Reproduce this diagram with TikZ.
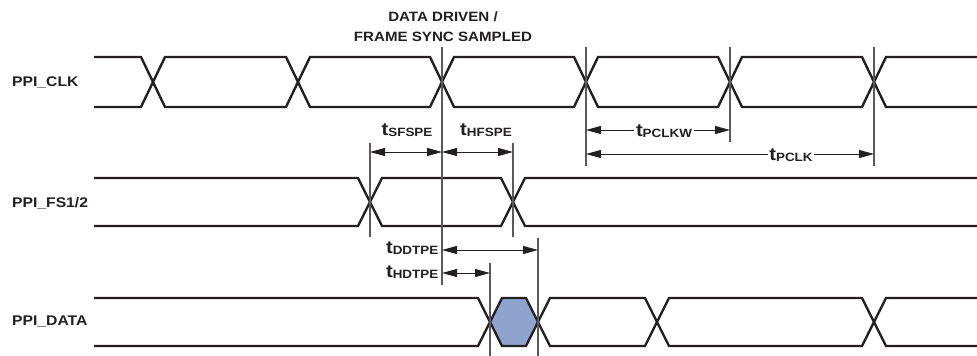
\documentclass[tikz,border=0pt]{standalone}
\usepackage{fontspec}
\usepackage{graphicx}
\setmainfont{Liberation Sans}
\usetikzlibrary{arrows.meta}
\definecolor{wavecol}{HTML}{231F20}
\definecolor{guidecol}{HTML}{5A5A5A}
\definecolor{hexfill}{RGB}{142,164,207}
\newcommand\stretchx[1]{\scalebox{1.12}[1]{#1}}
\newcommand\tlab[1]{\stretchx{{\fontsize{18}{18}\selectfont t}\raisebox{-1.5pt}{\fontsize{12}{12}\selectfont #1}}}
\begin{document}
\begin{tikzpicture}[x=1pt,y=-1pt,
  wave/.style={line width=2.4pt, draw=wavecol, line join=miter},
  guide/.style={line width=1.1pt, draw=guidecol},
  dimboth/.style={line width=0.9pt, draw=wavecol, {Triangle[length=15pt,width=8pt]}-{Triangle[length=15pt,width=8pt]}},
  dimone/.style={line width=0.9pt, draw=wavecol, -{Triangle[length=15pt,width=8pt]}},
  sig/.style={font=\bfseries\fontsize{14}{14}\selectfont, anchor=west, inner sep=0pt, text=wavecol},
  tl/.style={font=\bfseries, inner sep=1.5pt, text=wavecol},
  hdr/.style={font=\bfseries\fontsize{13.5}{20}\selectfont, align=center, inner sep=0pt, text=wavecol}
]
\useasboundingbox (0,0) rectangle (977,356);

% signal names
\node[sig] (nclk) at (12,82) {\stretchx{PPI\_CLK}};
\node[sig] (nfs) at (12,203) {\stretchx{PPI\_FS1/2}};
\node[sig] (ndata) at (12,322) {\stretchx{PPI\_DATA}};

% header
\node[hdr, anchor=base] (hdr) at (443,41) {\stretchx{DATA DRIVEN /}\\\stretchx{FRAME SYNC SAMPLED}};

% data hexagon fill
\fill[hexfill] (490,322) -- (502,298) -- (526,298) -- (538,322) -- (526,346) -- (502,346) -- cycle;

% PPI_CLK
\draw[wave] (94,57) -- (141,57) -- (165,107) -- (286,107) -- (310,57) -- (430,57) -- (454,107) -- (574,107) -- (598,57) -- (718,57) -- (742,107) -- (862,107) -- (886,57) -- (977,57);
\draw[wave] (94,107) -- (141,107) -- (165,57) -- (286,57) -- (310,107) -- (430,107) -- (454,57) -- (574,57) -- (598,107) -- (718,107) -- (742,57) -- (862,57) -- (886,107) -- (977,107);

% PPI_FS1/2
\draw[wave] (94,178) -- (358,178) -- (382,226) -- (501,226) -- (525,178) -- (977,178);
\draw[wave] (94,226) -- (358,226) -- (382,178) -- (501,178) -- (525,226) -- (977,226);

% PPI_DATA
\draw[wave] (94,298) -- (478,298) -- (502,346) -- (526,346) -- (550,298) -- (645,298) -- (669,346) -- (862,346) -- (886,298) -- (977,298);
\draw[wave] (94,346) -- (478,346) -- (502,298) -- (526,298) -- (550,346) -- (645,346) -- (669,298) -- (862,298) -- (886,346) -- (977,346);

% guide lines
\coordinate (g442t) at (442,47);  \coordinate (g442b) at (442,285);
\coordinate (g586t) at (586,47);  \coordinate (g586b) at (586,166);
\coordinate (g730t) at (730,47);  \coordinate (g730b) at (730,142);
\coordinate (g874t) at (874,47);  \coordinate (g874b) at (874,166);
\coordinate (g370t) at (370,143); \coordinate (g370b) at (370,237);
\coordinate (g513t) at (513,143); \coordinate (g513b) at (513,237);
\coordinate (g490t) at (490,263); \coordinate (g490b) at (490,356);
\coordinate (g538t) at (538,238); \coordinate (g538b) at (538,356);
\foreach \g in {442,586,730,874,370,513,490,538}
  \draw[guide] (g\g t) -- (g\g b);

% dimension anchors
\coordinate (sf1) at (370,152); \coordinate (sf2) at (442,152); \coordinate (hf2) at (513,152);
\coordinate (pw1) at (586,130); \coordinate (pw2) at (730,130);
\coordinate (pc1) at (586,154); \coordinate (pc2) at (874,154);
\coordinate (dd1) at (442,250); \coordinate (dd2) at (538,250);
\coordinate (hd1) at (442,273); \coordinate (hd2) at (490,273);

\draw[dimboth] (sf1) -- (sf2);
\draw[dimboth] (sf2) -- (hf2);
\draw[dimboth] (dd1) -- (dd2);
\draw[dimboth] (hd1) -- (hd2);

% labels
\node[tl, anchor=base] (lsf) at (407,135) {\tlab{SFSPE}};
\node[tl, anchor=base] (lhf) at (486,135) {\tlab{HFSPE}};
\node[tl, anchor=base] (lpw) at (664,136) {\tlab{PCLKW}};
\node[tl, anchor=base] (lpc) at (791,160) {\tlab{PCLK}};
\node[tl, anchor=base east] (ldd) at (440,253) {\tlab{DDTPE}};
\node[tl, anchor=base east] (lhd) at (440,277) {\tlab{HDTPE}};

\draw[dimone] (lpw.west |- pw1) -- (pw1);
\draw[dimone] (lpw.east |- pw2) -- (pw2);
\draw[dimone] (lpc.west |- pc1) -- (pc1);
\draw[dimone] (lpc.east |- pc2) -- (pc2);
\end{tikzpicture}
\end{document}
